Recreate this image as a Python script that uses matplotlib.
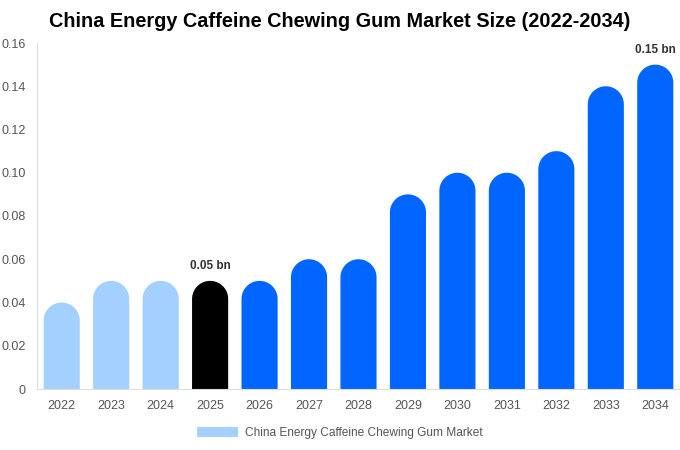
import numpy as np
import matplotlib
matplotlib.use("Agg")
import matplotlib.pyplot as plt
from matplotlib.patches import Polygon, Patch

plt.rcParams['font.family'] = ['Liberation Sans', 'DejaVu Sans']

# data
years = ['2022', '2023', '2024', '2025', '2026', '2027', '2028',
         '2029', '2030', '2031', '2032', '2033', '2034']
values = [0.04, 0.05, 0.05, 0.05, 0.05, 0.06, 0.06,
          0.09, 0.10, 0.10, 0.11, 0.14, 0.15]
colors = ['#a3d0ff'] * 3 + ['#000000'] + ['#0066ff'] * 9
labels = {3: '0.05 bn', 12: '0.15 bn'}

fig = plt.figure(figsize=(6.8, 4.5), dpi=100)
ax = fig.add_axes([37 / 680, 61 / 450, 643 / 680, 346 / 450])
ax.set_xlim(-0.5, len(years) - 0.5)
ax.set_ylim(0, 0.16)

bar_w = 0.73
# pixel scale, so the caps come out as half circles
px_x = (643) / len(years)
px_y = 346 / 0.16
r_px = bar_w * px_x / 2
rx = bar_w / 2
ry = r_px / px_y

t = np.linspace(np.pi, 0, 40)
for i, (v, c) in enumerate(zip(values, colors)):
    x0, x1 = i - rx, i + rx
    cy = v - ry
    arc = np.column_stack([i + rx * np.cos(t), cy + ry * np.sin(t)])
    pts = np.vstack([[x0, 0], arc, [x1, 0]])
    ax.add_patch(Polygon(pts, closed=True, facecolor=c, edgecolor='none'))
    if i in labels:
        ax.text(i, v + 0.004, labels[i], ha='center', va='bottom',
                fontsize=8.5, fontweight='bold', color='#333333')

ax.set_xticks(range(len(years)))
ax.set_xticklabels(years)
ax.set_yticks(np.arange(0, 0.161, 0.02))
ax.set_yticklabels(['0'] + ['%.2f' % y for y in np.arange(0.02, 0.161, 0.02)])
ax.tick_params(axis='both', length=0, labelsize=9, labelcolor='#555555')
ax.tick_params(axis='x', pad=8)
ax.tick_params(axis='y', pad=8)
for s in ['top', 'right']:
    ax.spines[s].set_visible(False)
for s in ['left', 'bottom']:
    ax.spines[s].set_color('#dddddd')

fig.text(0.5, 0.952, 'China Energy Caffeine Chewing Gum Market Size (2022-2034)',
         ha='center', va='center', fontsize=14.3, fontweight='bold')

fig.legend(handles=[Patch(facecolor='#a3d0ff', label='China Energy Caffeine Chewing Gum Market')],
           loc='center', bbox_to_anchor=(0.5, 0.037), frameon=False, fontsize=8.6,
           handlelength=3.4, handleheight=0.9, handletextpad=0.6, labelcolor='#555555')

fig.savefig('out.png', dpi=100)
